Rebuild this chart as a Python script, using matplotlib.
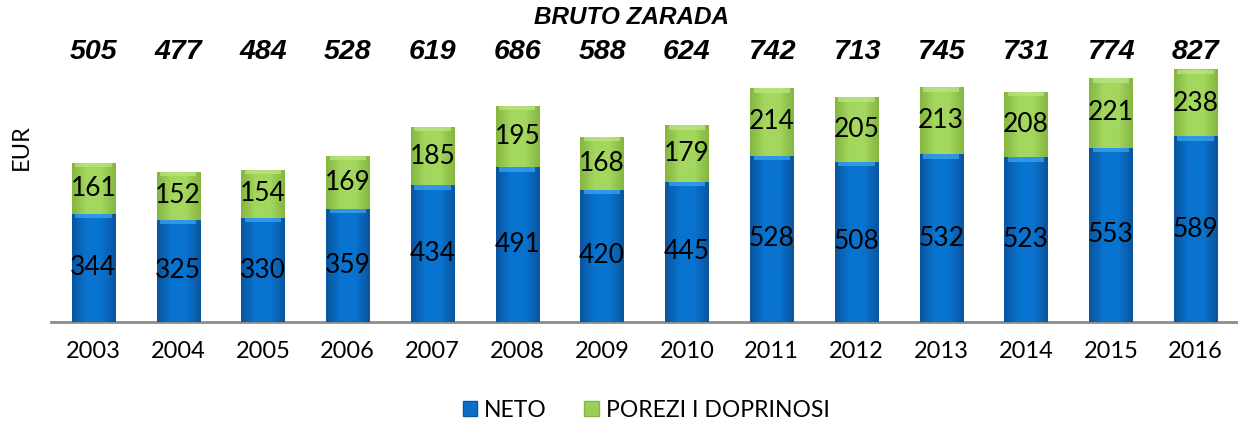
import matplotlib.pyplot as plt
from matplotlib.patches import Patch
from matplotlib.colors import LinearSegmentedColormap
from matplotlib.transforms import blended_transform_factory
import numpy as np

# data
years = ['2003', '2004', '2005', '2006', '2007', '2008', '2009',
         '2010', '2011', '2012', '2013', '2014', '2015', '2016']
neto = [344, 325, 330, 359, 434, 491, 420, 445, 528, 508, 532, 523, 553, 589]
porezi = [161, 152, 154, 169, 185, 195, 168, 179, 214, 205, 213, 208, 221, 238]
bruto = [505, 477, 484, 528, 619, 686, 588, 624, 742, 713, 745, 731, 774, 827]

Font = 'Lato'
YMax = 800

fig = plt.figure(figsize=(12.38, 4.23), dpi=100)
ax = fig.add_axes([51 / 1238, 1 - 322 / 423, 1 - 51 / 1238, (322 - 70) / 423])

x = np.arange(len(years))
width = 0.51

bars1 = ax.bar(x, neto, width, color='#0a6fc8', label='NETO', zorder=2)
bars2 = ax.bar(x, porezi, width, bottom=neto, color='#9ccf55',
               label='POREZI I DOPRINOSI', zorder=2)


def shade(bars, edge, mid, top):
    # horizontal gradient plus a light band at the top of each segment
    cmap = LinearSegmentedColormap.from_list('g', [edge, mid, mid, edge])
    grad = np.linspace(0, 1, 64).reshape(1, -1)
    for b in bars:
        x0, y0 = b.get_x(), b.get_y()
        w, h = b.get_width(), b.get_height()
        y1 = min(y0 + h, YMax)
        im = ax.imshow(grad, cmap=cmap, aspect='auto', extent=[x0, x0 + w, y0, y1],
                       zorder=3, interpolation='bicubic')
        im.set_clip_path(b)
        band = 14
        ax.fill_between([x0 + w * 0.08, x0 + w * 0.92], y1 - band, y1, color=top,
                        zorder=4, linewidth=0, alpha=0.7)


shade(bars1, '#0a55a0', '#0874d0', '#3ea8f0')
shade(bars2, '#84b640', '#a4d75e', '#bde486')

top_trans = blended_transform_factory(ax.transData, fig.transFigure)
for i in range(len(years)):
    ax.text(x[i], neto[i] / 2, str(neto[i]), ha='center', va='center',
            fontsize=19, family=Font, zorder=5)
    top = min(neto[i] + porezi[i], YMax)
    ax.text(x[i], (neto[i] + top) / 2, str(porezi[i]), ha='center', va='center',
            fontsize=19, family=Font, zorder=5)
    ax.text(x[i], 1 - 52 / 423, str(bruto[i]), ha='center', va='center',
            fontsize=20.5, fontweight='bold', fontstyle='italic',
            family='Liberation Sans', transform=top_trans)

fig.text(632 / 1238, 1 - 18 / 423, 'BRUTO ZARADA', ha='center', va='center',
         fontsize=17.5, fontweight='bold', fontstyle='italic', family='Liberation Sans')
fig.text(21 / 1238, 1 - 147 / 423, 'EUR', rotation=90, ha='center', va='center',
         fontsize=17, family=Font)

ax.set_xlim(-0.5, len(years) - 0.5)
ax.set_ylim(0, YMax)
ax.set_xticks(x)
ax.set_xticklabels(years, fontsize=17, family=Font)
ax.tick_params(axis='x', length=0, pad=14)
ax.set_yticks([])
for s in ['top', 'right', 'left']:
    ax.spines[s].set_visible(False)
ax.spines['bottom'].set_color('#8c8c8c')
ax.spines['bottom'].set_linewidth(2)

handles = [Patch(facecolor='#0a6fc8', edgecolor='#0a55a0', label='NETO'),
           Patch(facecolor='#9ccf55', edgecolor='#84b640', label='POREZI I DOPRINOSI')]
fig.legend(handles=handles, loc='center', bbox_to_anchor=(646 / 1238, 1 - 410 / 423),
           ncol=2, frameon=False, prop={'family': Font, 'size': 16.5},
           handlelength=0.65, handleheight=0.65, handletextpad=0.3, columnspacing=1.6)

fig.savefig('out.png', dpi=100)
